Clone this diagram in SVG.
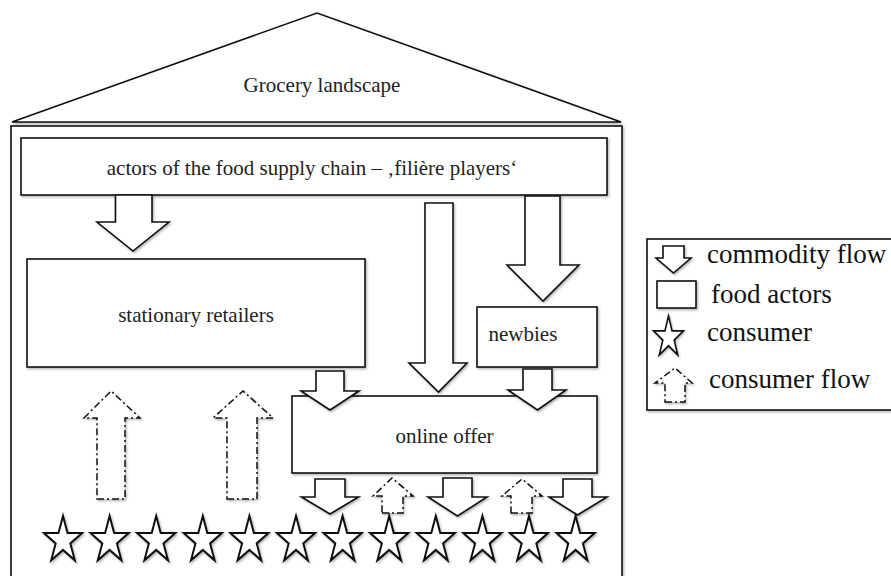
<svg xmlns="http://www.w3.org/2000/svg" xmlns:xlink="http://www.w3.org/1999/xlink" width="891" height="576" viewBox="0 0 891 576">
<defs>
<style>
.shape{fill:#fff;stroke:#111;stroke-width:1.6;filter:url(#sh);}
.flow{fill:#fff;stroke:#111;stroke-width:1.6;stroke-linejoin:miter;filter:url(#sh);}
.cflow{fill:#fff;stroke:#111;stroke-width:1.5;stroke-dasharray:7 3 2 3;filter:url(#sh);}
.star{fill:#fff;stroke:#111;stroke-width:2;stroke-linejoin:miter;filter:url(#sh);}
text{font-family:'Liberation Serif','Times New Roman','DejaVu Serif',serif;}
.t{font-size:21px;fill:#222;}
.lt{font-size:27px;fill:#111;}
</style>
<filter id="sh" x="-20%" y="-20%" width="140%" height="140%">
<feDropShadow dx="1.2" dy="1.5" stdDeviation="1.2" flood-color="#000" flood-opacity="0.3"/>
</filter>
<path id="star" d="M0,-24.5 L4.5,-7.6 L19.1,-7.6 L7.3,2.9 L11.8,19.8 L0,9.4 L-11.8,19.8 L-7.3,2.9 L-19.1,-7.6 L-4.5,-7.6 Z"/>
</defs>
<rect width="891" height="576" fill="#fff"/>

<g id="house">
<polygon class="shape" points="12,122 317,13 621,122"/>
<rect class="shape" x="11" y="126" width="611" height="470"/>
<text class="t" font-family="Liberation Serif, DejaVu Serif, serif" x="322" y="92" text-anchor="middle">Grocery landscape</text>
</g>

<g id="filiere-players">
<rect class="shape" x="21" y="138" width="586" height="57"/>
<text class="t" font-family="Liberation Serif, DejaVu Serif, serif" x="312" y="175" text-anchor="middle">actors of the food supply chain – ‚filière players‘</text>
</g>

<g id="stationary-retailers">
<rect class="shape" x="27" y="259" width="338" height="108"/>
<text class="t" font-family="Liberation Serif, DejaVu Serif, serif" x="196" y="322" text-anchor="middle">stationary retailers</text>
</g>

<g id="newbies">
<rect class="shape" x="477" y="307" width="120" height="60"/>
<text class="t" font-family="Liberation Serif, DejaVu Serif, serif" x="488.5" y="341">newbies</text>
</g>

<g id="online-offer">
<rect class="shape" x="292" y="396" width="305" height="77"/>
<text class="t" font-family="Liberation Serif, DejaVu Serif, serif" x="444.5" y="443" text-anchor="middle">online offer</text>
</g>

<g id="connectors">
<polygon class="flow" points="115.5,195 152,195 152,222 169,222 133,251 97,222 115.5,222"/>
<polygon class="flow" points="425,203 453,203 453,363 467,363 438.5,392 409,363 425,363"/>
<polygon class="flow" points="525,196 560,196 560,265 579,265 543,301 507,265 525,265"/>
<polygon class="flow" points="316,371 344,371 344,391 359,391 330,410 301,391 316,391"/>
<polygon class="flow" points="523,369 552,369 552,390 566,390 537.5,410 508,390 523,390"/>
<polygon class="flow" points="315,479 345,479 345,497 358.5,497 330,514 301.5,497 315,497"/>
<polygon class="flow" points="443,478 472,478 472,497 487,497 457.5,516 428,497 443,497"/>
<polygon class="flow" points="563,479 592,479 592,497 607,497 577.5,515 549,497 563,497"/>
<polygon class="cflow" points="97,499 125,499 125,418 140,418 111,391 84,418 97,418"/>
<polygon class="cflow" points="227,499 257,499 257,418 273,418 243,391 213,418 227,418"/>
<polygon class="cflow" points="382,513 403,513 403,496 413,496 392,478 373,496 382,496"/>
<polygon class="cflow" points="511,513 532,513 532,496 542,496 522,479 502,496 511,496"/>
</g>

<g id="consumers">
<use href="#star" class="star" x="63" y="540.5"/>
<use href="#star" class="star" x="109.6" y="540.5"/>
<use href="#star" class="star" x="156.2" y="540.5"/>
<use href="#star" class="star" x="202.8" y="540.5"/>
<use href="#star" class="star" x="249.4" y="540.5"/>
<use href="#star" class="star" x="296" y="540.5"/>
<use href="#star" class="star" x="342.6" y="540.5"/>
<use href="#star" class="star" x="389.2" y="540.5"/>
<use href="#star" class="star" x="435.8" y="540.5"/>
<use href="#star" class="star" x="482.4" y="540.5"/>
<use href="#star" class="star" x="529" y="540.5"/>
<use href="#star" class="star" x="575.6" y="540.5"/>
</g>

<g id="legend">
<rect class="shape" x="647" y="239" width="260" height="171"/>
<polygon class="flow" points="663,246 684,246 684,258 691,258 673.5,273 656,258 663,258"/>
<text class="lt" font-family="Liberation Serif, DejaVu Serif, serif" x="707" y="263">commodity flow</text>
<rect class="shape" x="657" y="281" width="39" height="27"/>
<text class="lt" font-family="Liberation Serif, DejaVu Serif, serif" x="711" y="303">food actors</text>
<use href="#star" class="star" transform="translate(668.5,337.5) scale(0.78,0.88)"/>
<text class="lt" font-family="Liberation Serif, DejaVu Serif, serif" x="707" y="341">consumer</text>
<polygon class="cflow" points="665,402 685,402 685,383 692,383 675,368 655,383 665,383"/>
<text class="lt" font-family="Liberation Serif, DejaVu Serif, serif" x="709" y="388">consumer flow</text>
</g>
</svg>
